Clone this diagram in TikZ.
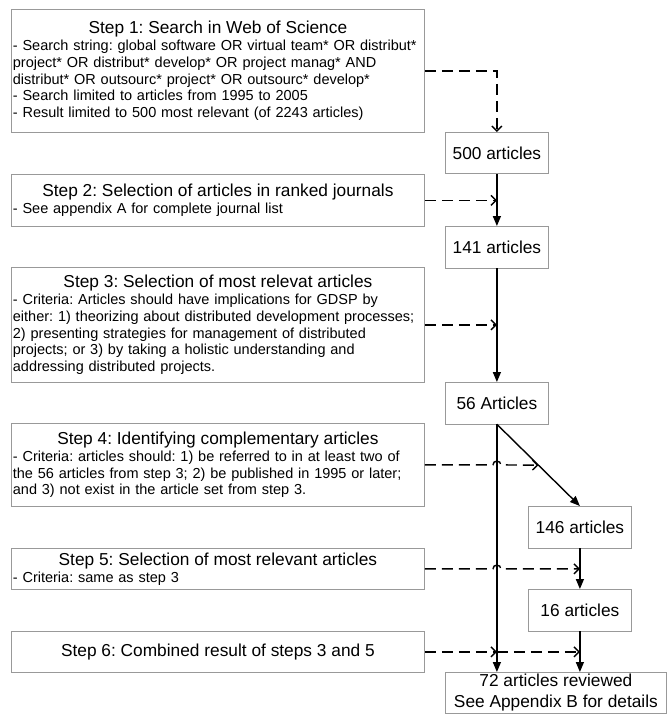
\documentclass[tikz,border=0pt]{standalone}
\usepackage{fontspec}
\setmainfont{Liberation Sans}
\usetikzlibrary{arrows.meta,calc}
\definecolor{boxgray}{gray}{0.6}
\newcommand{\steptitle}{\fontsize{17.3}{19}\selectfont}
\newcommand{\stepbody}{\fontsize{14.5}{16.8}\selectfont\frenchspacing}

\begin{document}
\begin{tikzpicture}[x=1pt,y=-1pt,
        stepbox/.style={draw=boxgray,line width=0.8pt,anchor=north west,inner xsep=1.5pt,inner ysep=0pt,
                        text width=410pt,minimum width=413pt,align=left,font=\stepbody},
        countbox/.style={draw=boxgray,line width=0.8pt,anchor=north west,inner sep=0pt,
                         minimum width=103pt,minimum height=41.5pt,font=\steptitle},
        flow/.style={line width=1.4pt,-{Triangle[length=10pt,width=8pt]}},
        feed/.style={line width=1.4pt,dash pattern=on 11pt off 6pt,-{Straight Barb[length=5pt,width=10pt]}}]
    \useasboundingbox (0,0) rectangle (667,714);
    \node[stepbox,minimum height=123pt] (s1) at (11,9) {{\centering\steptitle Step 1: Search in Web of Science\par}
        - Search string: global software OR virtual team* OR distribut*\\
        project* OR distribut* develop* OR project manag* AND\\
        distribut* OR outsourc* project* OR outsourc* develop*\\
        - Search limited to articles from 1995 to 2005\\
        - Result limited to 500 most relevant (of 2243 articles)};
    \node[stepbox,minimum height=52pt] (s2) at (11,174) {{\centering\steptitle Step 2: Selection of articles in ranked journals\par}
        - See appendix A for complete journal list};
    \node[stepbox,minimum height=115pt] (s3) at (11,267) {{\centering\steptitle Step 3: Selection of most relevat articles\par}
        - Criteria: Articles should have implications for GDSP by\\
        either: 1) theorizing about distributed development processes;\\
        2) presenting strategies for management of distributed\\
        projects; or 3) by taking a holistic understanding and\\
        addressing distributed projects.};
    \node[stepbox,minimum height=83pt] (s4) at (11,423) {{\centering\steptitle Step 4: Identifying complementary articles\par}
        - Criteria: articles should: 1) be referred to in at least two of\\
        the 56 articles from step 3; 2) be published in 1995 or later;\\
        and 3) not exist in the article set from step 3.};
    \node[stepbox,minimum height=41pt] (s5) at (11,548) {{\centering\steptitle Step 5: Selection of most relevant articles\par}
        - Criteria: same as step 3};
    \node[stepbox,minimum height=41pt] (s6) at (11,631) {{\centering\steptitle Step 6: Combined result of steps 3 and 5\par}};

    \node[countbox] (a500) at (445,132) {500 articles};
    \node[countbox] (a141) at (445,226) {141 articles};
    \node[countbox] (a56) at (445,382) {56 Articles};
    \node[countbox] (a146) at (528,506) {146 articles};
    \node[countbox] (a16) at (528,589) {16 articles};
    \node[countbox,minimum width=221pt,minimum height=41pt,align=center,font=\fontsize{17.3}{21}\selectfont]
        (total) at (445,672) {72 articles reviewed\\See Appendix B for details};

    \coordinate (x4) at (a56.south |- s4.east);
    \coordinate (x5) at (a56.south |- s5.east);
    \coordinate (x6) at (a56.south |- s6.east);

    \draw[feed] (s1.east) -| (a500.north);
    \draw[feed] (s2.east) -- (s2.east -| a500.south);
    \draw[feed] (s3.east) -- (s3.east -| a141.south);
    \draw[feed] (s4.east) -- ([xshift=-4pt]x4) .. controls ([xshift=-4pt,yshift=5pt]x4) and ([xshift=4pt,yshift=5pt]x4) .. ([xshift=4pt]x4)
        -- ($(a56.south)!.5!(a146.north)$);
    \draw[feed] (s5.east) -- ([xshift=-4pt]x5) .. controls ([xshift=-4pt,yshift=5pt]x5) and ([xshift=4pt,yshift=5pt]x5) .. ([xshift=4pt]x5)
        -- (s5.east -| a146.south);
    \draw[feed] (s6.east) -- (x6);
    \draw[feed] (x6) -- (s6.east -| a16.south);

    \draw[flow] (a500) -- (a141);
    \draw[flow] (a141) -- (a56);
    \draw[flow] (a56.south) -- (a146.north);
    \draw[flow] (a146) -- (a16);
    \draw[flow] (a56.south) -- (a56.south |- total.north);
    \draw[flow] (a16.south) -- (a16.south |- total.north);
\end{tikzpicture}
\end{document}
